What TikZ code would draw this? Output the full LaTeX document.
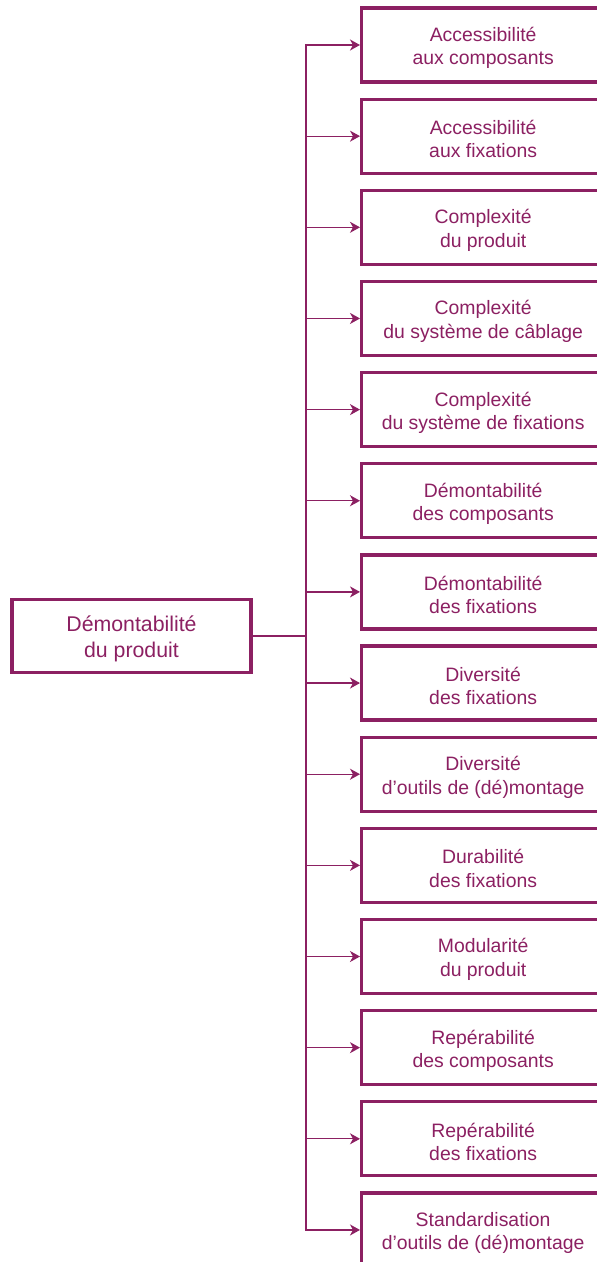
\documentclass[tikz,border=0pt]{standalone}
\usepackage{fontspec}
\setmainfont{Liberation Sans}
\usetikzlibrary{arrows.meta}
\definecolor{plum}{RGB}{140,32,98}
\tikzset{
  rbox/.style={draw=plum, line width=3.3pt, minimum width=247pt, minimum height=74pt,
    anchor=west, inner sep=0pt},
  rtext/.style={text=plum, align=center, inner sep=0pt, yshift=-3pt, xshift=-2pt, font=\fontsize{19.4}{23.4}\selectfont},
  lbox/.style={draw=plum, line width=3.3pt, minimum width=239pt, minimum height=73.5pt, inner sep=0pt},
  ltext/.style={text=plum, align=center, inner sep=0pt, yshift=-3pt, font=\fontsize{21.3}{26}\selectfont},
  link/.style={draw=plum, line width=1.3pt, -{Stealth[length=10pt,width=11pt,inset=3pt]}},
}
\begin{document}
\begin{tikzpicture}[x=1pt,y=-1pt]
\clip (0,0) rectangle (597,1262);
\fill[white] (0,0) rectangle (597,1262);
\node[lbox, label={[ltext]center:{Démontabilité\\du produit}}] (L) at (131.5,636) {};
\coordinate (J) at (306,636);
\draw[plum, line width=2pt] (L.east) -- (J);
\foreach \i/\t in {0/{Accessibilité\\aux composants},
  1/{Accessibilité\\aux fixations},
  2/{Complexité\\du produit},
  3/{Complexité\\du système de câblage},
  4/{Complexité\\du système de fixations},
  5/{Démontabilité\\des composants},
  6/{Démontabilité\\des fixations},
  7/{Diversité\\des fixations},
  8/{Diversité\\d’outils de (dé)montage},
  9/{Durabilité\\des fixations},
  10/{Modularité\\du produit},
  11/{Repérabilité\\des composants},
  12/{Repérabilité\\des fixations},
  13/{Standardisation\\d’outils de (dé)montage}}{
  \node[rbox, label={[rtext]center:{\t}}] (R\i) at (360,{45+91.15*\i}) {};
  \draw[link] (J) |- (R\i.west);
}
\end{tikzpicture}
\end{document}
